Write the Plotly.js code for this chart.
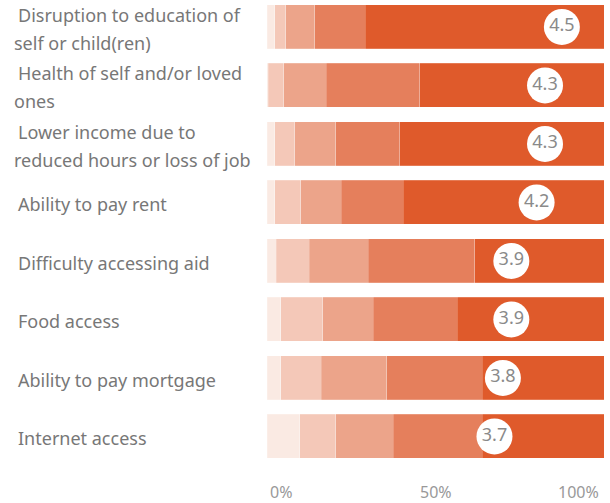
<!DOCTYPE html>
<html>
<head>
<meta charset="utf-8">
<script src="https://cdn.plot.ly/plotly-3.0.1.min.js"></script>
<style>html,body{margin:0;padding:0;background:#fff;}#chart{width:610px;height:503px;}</style>
</head>
<body>
<div id="chart"></div>
<script>
// Categories (top to bottom); <br> marks the wrapped line break
const categories = [
  "Disruption to education of<br>self or child(ren)",
  "Health of self and/or loved<br>ones",
  "Lower income due to<br>reduced hours or loss of job",
  "Ability to pay rent",
  "Difficulty accessing aid",
  "Food access",
  "Ability to pay mortgage",
  "Internet access"
];
// Share of responses (%) per rating level 1..5
const rating1 = [2.3, 0.3, 2.3, 2.3, 2.8, 4.1, 4.1, 9.7];
const rating2 = [3.2, 4.7, 5.9, 7.7, 9.7, 12.5, 12.0, 10.7];
const rating3 = [8.7, 12.6, 12.2, 12.1, 17.6, 14.9, 19.5, 17.1];
const rating4 = [15.0, 27.7, 19.0, 18.3, 31.5, 25.0, 28.3, 26.4];
const rating5 = [70.8, 54.7, 60.6, 59.6, 38.4, 43.5, 36.1, 36.1];
// Mean rating (1-5 scale)
const meanScores = [4.5, 4.3, 4.3, 4.2, 3.9, 3.9, 3.8, 3.7];
// X-axis ticks
const tickVals = [0, 50, 100];
const tickText = ["0%", "50%", "100%"];

const FONT = "'Noto Sans', 'Open Sans', sans-serif";
const levelColors = ["#FAEAE3", "#F4C8B8", "#ECA48A", "#E57F5C", "#DF5A2B"];
const series = [rating1, rating2, rating3, rating4, rating5];

const traces = series.map((vals, i) => ({
  type: "bar",
  orientation: "h",
  x: vals,
  y: categories,
  marker: {color: levelColors[i], line: {color: "rgba(255,255,255,0.4)", width: 0.5}},
  hoverinfo: "x+y",
  showlegend: false
}));

traces.push({
  type: "scatter",
  mode: "markers+text",
  x: meanScores,
  y: categories,
  xaxis: "x2",
  text: meanScores.map(v => v.toFixed(1)),
  textposition: "middle center",
  textfont: {family: FONT, size: 18, color: "#8a8a8a"},
  marker: {size: 36, color: "#ffffff", line: {width: 0}},
  cliponaxis: false,
  showlegend: false
});

const annotations = [];
categories.forEach((c, i) => {
  const lines = c.split("<br>");
  const n = lines.length;
  lines.forEach((ln, j) => {
    const shift = n === 1 ? -2 : (j === 0 ? 12 : -16);
    annotations.push({
      xref: "paper", yref: "y",
      x: j === 0 ? -0.745 : -0.757,
      y: c,
      text: ln,
      showarrow: false,
      xanchor: "left", yanchor: "middle",
      yshift: shift,
      font: {family: FONT, size: 18, color: "#777777"}
    });
  });
});
tickVals.forEach((v, i) => {
  annotations.push({
    xref: "x", yref: "paper",
    x: v, y: 0, yanchor: "middle", yshift: -24,
    xanchor: i === 0 ? "left" : (i === tickVals.length - 1 ? "right" : "center"),
    xshift: i === 0 ? 1 : (i === tickVals.length - 1 ? -3 : 0),
    text: tickText[i],
    showarrow: false,
    font: {family: FONT, size: 16, color: "#999999"}
  });
});

const layout = {
  width: 610, height: 503,
  margin: {l: 267, r: 6, t: 0, b: 35},
  paper_bgcolor: "#ffffff", plot_bgcolor: "#ffffff",
  barmode: "stack",
  bargap: 0.25,
  xaxis: {range: [0, 100], showgrid: false, zeroline: false, showticklabels: false, fixedrange: true},
  xaxis2: {range: [1, 5], overlaying: "x", showgrid: false, zeroline: false, showticklabels: false, visible: false},
  yaxis: {range: [7.54, -0.46], showgrid: false, zeroline: false, showticklabels: false, type: "category"},
  annotations: annotations
};

Plotly.newPlot("chart", traces, layout, {displayModeBar: false, staticPlot: true});
</script>
</body>
</html>
